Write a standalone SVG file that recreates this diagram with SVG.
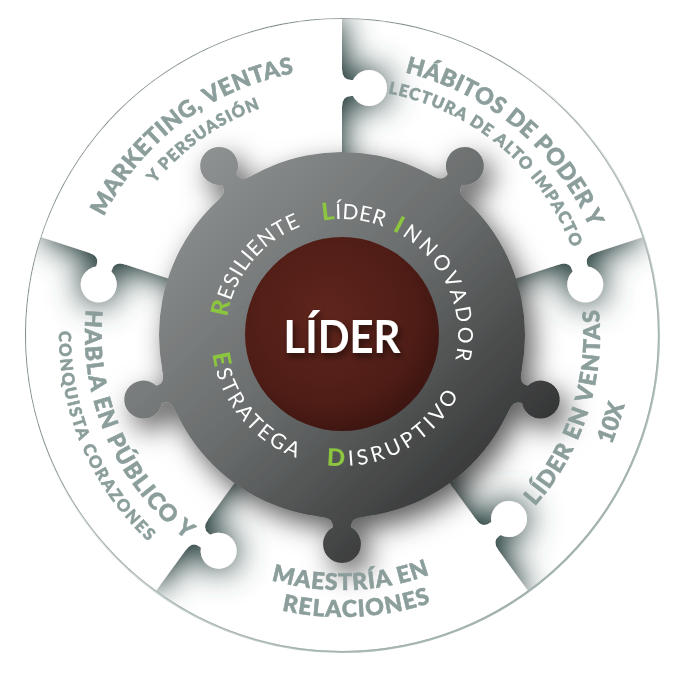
<svg xmlns="http://www.w3.org/2000/svg" width="683" height="683" viewBox="0 0 683 683">
<defs>
<style>
.lbl{font-family:"Lato","Open Sans","Liberation Sans",sans-serif;font-weight:900;fill:#8b9e9b;stroke:#8b9e9b;stroke-width:0.6px;}
.big{font-size:23px;}
.small{font-size:16.5px;}
.ring{font-family:"Lato","Open Sans","Liberation Sans",sans-serif;font-weight:400;font-size:21px;fill:#ffffff;}
.ini{fill:#8cc63f;font-weight:900;font-size:24px;}
.piece{fill:#ffffff;}
</style>
<filter id="pieceShadow" filterUnits="userSpaceOnUse" x="-400" y="-400" width="800" height="800">
<feGaussianBlur in="SourceAlpha" stdDeviation="17" result="b0"/>
<feComponentTransfer in="b0" result="b"><feFuncA type="linear" slope="1.4"/></feComponentTransfer>
<feFlood flood-color="#3d5351" result="f"/>
<feComposite in="f" in2="b" operator="in" result="s"/>
<feMerge><feMergeNode in="s"/><feMergeNode in="SourceGraphic"/></feMerge>
</filter>
<filter id="hubShadow" x="-15%" y="-15%" width="130%" height="130%">
<feDropShadow dx="8" dy="11" stdDeviation="14" flood-color="#000000" flood-opacity="0.65"/>
</filter>
<filter id="txtShadow" x="-20%" y="-30%" width="140%" height="160%">
<feDropShadow dx="2" dy="4" stdDeviation="3" flood-color="#000000" flood-opacity="0.55"/>
</filter>
<linearGradient id="hubGrad" gradientUnits="userSpaceOnUse" x1="180" y1="170" x2="500" y2="500">
<stop offset="0" stop-color="#8f9292"/><stop offset="0.5" stop-color="#686b6b"/><stop offset="1" stop-color="#2f3030"/>
</linearGradient>
<radialGradient id="coreGrad" cx="0.42" cy="0.4" r="0.65">
<stop offset="0" stop-color="#5f251c"/><stop offset="0.7" stop-color="#4f1d16"/><stop offset="1" stop-color="#3b1410"/>
</radialGradient>
<linearGradient id="rimGrad" gradientUnits="userSpaceOnUse" x1="120" y1="80" x2="560" y2="600">
<stop offset="0" stop-color="#c3cdcb" stop-opacity="0"/><stop offset="0.3" stop-color="#c3cdcb" stop-opacity="0"/><stop offset="0.6" stop-color="#b7c3c1" stop-opacity="0.7"/><stop offset="1" stop-color="#9fb0ad"/>
</linearGradient>
<path id="knobG" d="M-26,-181.1 C-14,-182.5 -9,-184 -9,-192.27 A19,19 0 1 1 9,-192.27 C9,-184 14,-182.5 26,-181.1 Z"/>
<path id="knobW" d="M228,-4 L228,0 Q239,0 239,9 L239,10.88 A18,18 0 1 0 255,10.88 L255,9 Q255,0 266,0 L266,-4 Z"/>
<mask id="hubMask" maskUnits="userSpaceOnUse" x="0" y="0" width="683" height="683">
<g transform="translate(342,335)" fill="#ffffff">
<circle r="183"/>
<use href="#knobG" transform="rotate(180)"/>
<use href="#knobG" transform="rotate(252)"/>
<use href="#knobG" transform="rotate(324)"/>
<use href="#knobG" transform="rotate(36)"/>
<use href="#knobG" transform="rotate(108)"/>
</g>
</mask>
<path id="pRes" d="M254.45,411.10 A116,116 0 0 1 398.24,233.54"/>
<path id="pLid" d="M230.27,303.81 A116,116 0 0 1 457.66,326.10"/>
<path id="pInn" d="M310.03,223.49 A116,116 0 0 1 410.18,428.85"/>
<path id="pEst" d="M243.13,249.06 A131,131 0 0 0 405.51,449.58"/>
<path id="pDis" d="M238.77,415.65 A131,131 0 0 0 466.59,294.52"/>
<path id="pMk" d="M104.99,455.76 A266,266 0 0 1 523.41,140.46"/>
<path id="pYp" d="M124.48,438.75 A241,241 0 0 1 510.92,163.11"/>
<path id="pHab" d="M168.45,128.17 A270,270 0 0 1 575.83,470"/>
<path id="pLec" d="M183.87,146.55 A246,246 0 0 1 555.04,458"/>
<path id="pHa" d="M200.15,120.69 A257,257 0 0 0 402.0,584.9"/>
<path id="pCon" d="M187.87,97.66 A283,283 0 0 0 405.66,610.75"/>
<path id="pLv" d="M306.09,590.49 A258,258 0 0 0 463.12,107.20"/>
<path id="p10" d="M301.50,623.17 A291,291 0 0 0 478.62,78.06"/>
<path id="pMae" d="M92.57,388.02 A255,255 0 0 0 594.52,370.49"/>
<path id="pRel" d="M67.23,398.44 A282,282 0 0 0 621.90,369.37"/>
</defs>

<rect width="683" height="683" fill="#ffffff"/>

<g id="pieces">
<g id="piece-lider-ventas" transform="translate(342,335)" filter="url(#pieceShadow)" class="piece">
<path d="M0,0 L300.5,-97.65 A316,316 0 0 1 185.7,255.6 Z"/>
</g>
<g id="piece-habitos" transform="translate(342,335)" filter="url(#pieceShadow)" class="piece">
<path d="M0,0 L0,-316 A316,316 0 0 1 300.5,-97.65 Z"/>
<use href="#knobW" transform="rotate(-18)"/>
</g>
<g id="piece-maestria" transform="translate(342,335)" filter="url(#pieceShadow)" class="piece">
<path d="M0,0 L185.7,255.6 A316,316 0 0 1 -185.7,255.6 Z"/>
<use href="#knobW" transform="rotate(54) scale(1,-1)"/>
</g>
<g id="piece-habla" transform="translate(342,335)" filter="url(#pieceShadow)" class="piece">
<path d="M0,0 L-185.7,255.6 A316,316 0 0 1 -300.5,-97.65 Z"/>
<use href="#knobW" transform="rotate(126) scale(1,-1)"/>
</g>
<g id="piece-marketing" transform="translate(342,335)" filter="url(#pieceShadow)" class="piece">
<path d="M0,0 L-300.5,-97.65 A316,316 0 0 1 0,-316 Z"/>
<use href="#knobW" transform="rotate(-90)"/>
<use href="#knobW" transform="rotate(198) scale(1,-1)"/>
</g>
<path id="outer-cover" fill="#ffffff" fill-rule="evenodd" d="M-50,-50 H733 V733 H-50 Z M342,18 A317,317 0 1 0 342,652 A317,317 0 1 0 342,18 Z"/>
</g>

<circle id="rim" cx="342" cy="335" r="317" fill="none" stroke="url(#rimGrad)" stroke-width="2.2"/>

<g id="hub">
<g filter="url(#hubShadow)"><rect x="0" y="0" width="683" height="683" fill="url(#hubGrad)" mask="url(#hubMask)"/></g>
<circle id="core" cx="342" cy="334" r="97" fill="url(#coreGrad)"/>
<text x="342" y="353" text-anchor="middle" font-family="Lato, 'Open Sans', 'Liberation Sans', sans-serif" font-size="46" font-weight="700" fill="#ffffff" filter="url(#txtShadow)" textLength="117" lengthAdjust="spacingAndGlyphs">LÍDER</text>
</g>

<g id="ring-words" text-anchor="middle">
<text class="ring"><textPath href="#pRes" startOffset="50%" textLength="122" lengthAdjust="spacing"><tspan class="ini">R</tspan>ESILIENTE</textPath></text>
<text class="ring"><textPath href="#pLid" startOffset="50%" textLength="62" lengthAdjust="spacing"><tspan class="ini">L</tspan>ÍDER</textPath></text>
<text class="ring"><textPath href="#pInn" startOffset="50%" textLength="155" lengthAdjust="spacing"><tspan class="ini">I</tspan>NNOVADOR</textPath></text>
<text class="ring"><textPath href="#pEst" startOffset="50%" textLength="140" lengthAdjust="spacing"><tspan class="ini">E</tspan>STRATEGA</textPath></text>
<text class="ring"><textPath href="#pDis" startOffset="50%" textLength="159" lengthAdjust="spacing"><tspan class="ini">D</tspan>ISRUPTIVO</textPath></text>
</g>

<g id="labels" text-anchor="middle">
<g id="label-marketing">
<text class="lbl big"><textPath href="#pMk" startOffset="50%" textLength="247" lengthAdjust="spacing">MARKETING, VENTAS</textPath></text>
<text class="lbl small"><textPath href="#pYp" startOffset="50%" textLength="131" lengthAdjust="spacing">Y PERSUASIÓN</textPath></text>
</g>
<g id="label-habitos">
<text class="lbl big"><textPath href="#pHab" startOffset="50%" textLength="250" lengthAdjust="spacing">HÁBITOS DE PODER Y</textPath></text>
<text class="lbl small"><textPath href="#pLec" startOffset="50%" textLength="251" lengthAdjust="spacing">LECTURA DE ALTO IMPACTO</textPath></text>
</g>
<g id="label-lider-ventas">
<text class="lbl big"><textPath href="#pLv" startOffset="50%" textLength="213" lengthAdjust="spacing">LÍDER EN VENTAS</textPath></text>
<text class="lbl big"><textPath href="#p10" startOffset="50%">10X</textPath></text>
</g>
<g id="label-maestria">
<text class="lbl big"><textPath href="#pMae" startOffset="50%" textLength="161" lengthAdjust="spacing">MAESTRÍA EN</textPath></text>
<text class="lbl big"><textPath href="#pRel" startOffset="50%" textLength="151" lengthAdjust="spacing">RELACIONES</textPath></text>
</g>
<g id="label-habla">
<text class="lbl big"><textPath href="#pHa" startOffset="50%" textLength="262" lengthAdjust="spacing">HABLA EN PÚBLICO Y</textPath></text>
<text class="lbl small"><textPath href="#pCon" startOffset="50%" textLength="235" lengthAdjust="spacing">CONQUISTA CORAZONES</textPath></text>
</g>
</g>
</svg>
